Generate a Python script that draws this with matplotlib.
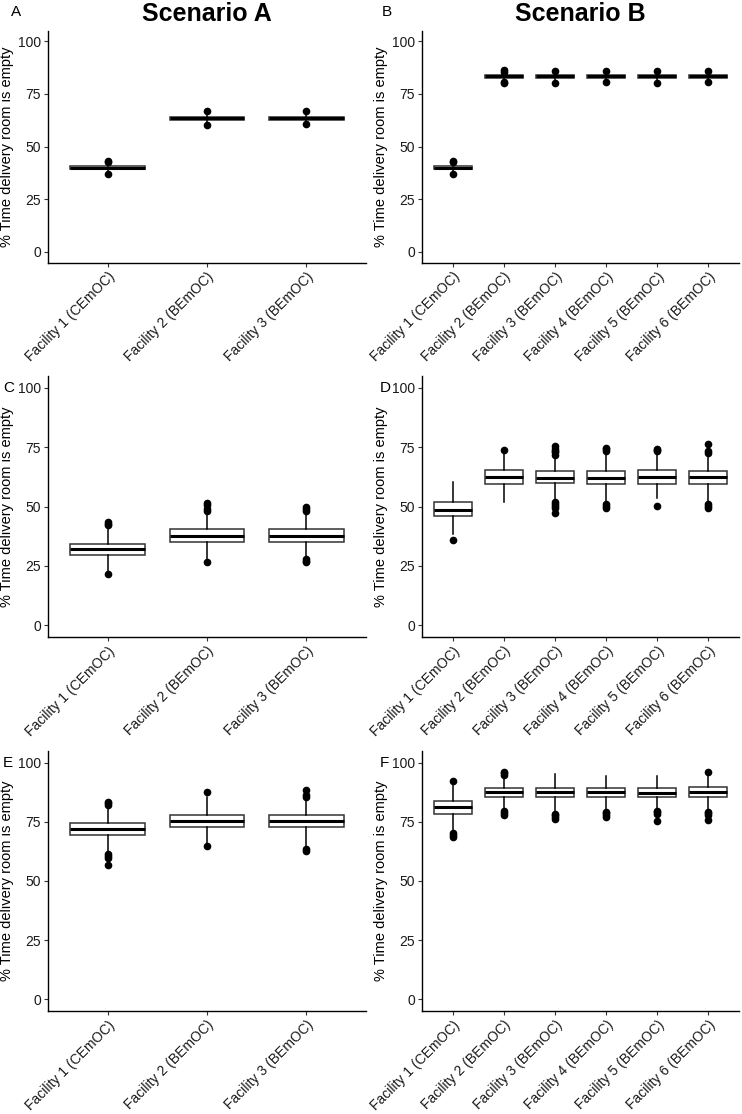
import matplotlib
matplotlib.use("Agg")
import matplotlib.pyplot as plt

plt.rcParams['font.family'] = ['Liberation Sans', 'DejaVu Sans']

labels3 = ["Facility 1 (CEmOC)", "Facility 2 (BEmOC)", "Facility 3 (BEmOC)"]
labels6 = ["Facility 1 (CEmOC)", "Facility 2 (BEmOC)", "Facility 3 (BEmOC)",
           "Facility 4 (BEmOC)", "Facility 5 (BEmOC)", "Facility 6 (BEmOC)"]
y_ticks = [0, 25, 50, 75, 100]

# Panel A
A_med = [40.0, 63.3, 63.3]
A_q1 = [39.2, 62.5, 62.5]
A_q3 = [40.8, 64.1, 64.1]
A_lo = [37.0, 60.0, 60.5]
A_hi = [43.3, 66.7, 66.7]
A_fliers = [[43.3, 42.6, 37.0], [66.7, 60.0], [66.7, 60.5]]

# Panel B
B_med = [40.0, 83.3, 83.3, 83.3, 83.3, 83.3]
B_q1 = [39.2, 82.5, 82.5, 82.5, 82.5, 82.5]
B_q3 = [40.8, 84.1, 84.1, 84.1, 84.1, 84.1]
B_lo = [37.0, 80.0, 80.0, 80.5, 80.0, 80.5]
B_hi = [43.3, 86.2, 85.8, 85.8, 85.8, 86.0]
B_fliers = [[43.3, 42.6, 37.0], [86.2, 85.5, 80.0, 80.6], [85.8, 80.0], [85.8, 80.5],
            [85.8, 80.0], [86.0, 80.5]]

# Panel C
C_med = [32.1, 37.7, 37.7]
C_q1 = [29.6, 35.2, 35.2]
C_q3 = [34.4, 40.4, 40.4]
C_lo = [23.0, 27.0, 28.0]
C_hi = [41.8, 48.0, 48.0]
C_fliers = [[42.2, 42.8, 43.4, 21.5], [48.3, 49.0, 50.6, 51.4, 26.8], [48.2, 48.8, 49.6, 26.5, 27.2, 27.8]]

# Panel D
D_med = [48.7, 62.5, 62.2, 62.2, 62.4, 62.4]
D_q1 = [45.8, 59.6, 59.8, 59.6, 59.6, 59.6]
D_q3 = [51.8, 65.2, 64.9, 65.0, 65.2, 64.9]
D_lo = [38.2, 51.8, 53.0, 52.2, 53.5, 52.2]
D_hi = [60.4, 73.8, 71.2, 72.6, 72.0, 71.6]
D_fliers = [[36.0], [74.0],
            [71.8, 72.8, 73.6, 74.4, 75.4, 47.3, 49.5, 50.4, 51.2, 52.0],
            [73.6, 74.2, 74.7, 49.5, 50.2, 51.0],
            [73.2, 73.8, 74.2, 50.3],
            [76.3, 72.6, 73.4, 49.5, 50.3, 51.2]]

# Panel E
E_med = [72.0, 75.4, 75.4]
E_q1 = [69.5, 72.9, 72.9]
E_q3 = [74.6, 78.1, 78.1]
E_lo = [62.0, 65.4, 64.5]
E_hi = [82.0, 85.6, 84.5]
E_fliers = [[82.3, 83.0, 83.6, 59.8, 60.6, 61.3, 56.8], [87.7, 64.8], [88.3, 85.6, 86.2, 62.9, 63.7]]

# Panel F
F_med = [81.1, 87.5, 87.5, 87.5, 87.3, 87.7]
F_q1 = [78.3, 85.5, 85.4, 85.4, 85.4, 85.4]
F_q3 = [83.7, 89.3, 89.4, 89.4, 89.4, 89.6]
F_lo = [71.2, 80.0, 79.0, 79.6, 80.0, 80.0]
F_hi = [91.8, 94.4, 95.1, 94.4, 94.6, 94.4]
F_fliers = [[92.4, 68.5, 69.5, 70.4], [94.8, 95.5, 96.0, 77.8, 78.6, 79.5],
            [76.3, 77.0, 77.8, 78.4], [77.0, 77.8, 78.6, 79.2],
            [78.2, 79.0, 79.8, 75.4], [96.2, 77.8, 78.6, 79.4, 75.6]]

panels = [
    ("A", labels3, A_med, A_q1, A_q3, A_lo, A_hi, A_fliers),
    ("B", labels6, B_med, B_q1, B_q3, B_lo, B_hi, B_fliers),
    ("C", labels3, C_med, C_q1, C_q3, C_lo, C_hi, C_fliers),
    ("D", labels6, D_med, D_q1, D_q3, D_lo, D_hi, D_fliers),
    ("E", labels3, E_med, E_q1, E_q3, E_lo, E_hi, E_fliers),
    ("F", labels6, F_med, F_q1, F_q3, F_lo, F_hi, F_fliers),
]

W, H = 742, 1114
fig = plt.figure(figsize=(W / 100, H / 100), dpi=100)

col_x = [(48, 366), (422, 739)]
row_y = [(30.5, 262.5), (376, 637), (751, 1011)]
label_pos = [(11, 12), (382, 12), (3, 388), (380, 388), (3, 763), (380, 763)]

for i, (tag, labs, med, q1, q3, lo, hi, fl) in enumerate(panels):
    r, c = divmod(i, 2)
    x0, x1 = col_x[c]
    yt, yb = row_y[r]
    ax = fig.add_axes([x0 / W, 1 - yb / H, (x1 - x0) / W, (yb - yt) / H])
    stats = []
    for k in range(len(labs)):
        stats.append(dict(med=med[k], q1=q1[k], q3=q3[k], whislo=lo[k], whishi=hi[k],
                          fliers=fl[k], label=labs[k]))
    pos = list(range(1, len(labs) + 1))
    ax.bxp(stats, positions=pos, widths=0.75, showcaps=False, patch_artist=True,
           boxprops=dict(facecolor='white', edgecolor='#333333', linewidth=1.1),
           medianprops=dict(color='black', linewidth=2.2),
           whiskerprops=dict(color='black', linewidth=1.1),
           flierprops=dict(marker='o', markerfacecolor='black', markeredgecolor='black',
                           markersize=4.5, linestyle='none'))
    ax.set_xlim(0.4, len(labs) + 0.6)
    ax.set_ylim(-5, 105)
    ax.set_yticks(y_ticks)
    ax.set_yticklabels([str(v) for v in y_ticks])
    ax.set_xticks(pos)
    ax.set_xticklabels(labs, rotation=45, ha='right', rotation_mode='anchor')
    for s in ['top', 'right']:
        ax.spines[s].set_visible(False)
    for s in ['left', 'bottom']:
        ax.spines[s].set_linewidth(1.0)
        ax.spines[s].set_color('black')
    ax.tick_params(axis='both', direction='out', length=3, width=0.8, color='#333333',
                   labelsize=10, labelcolor='#1a1a1a', pad=2)
    ax.set_ylabel("% Time delivery room is empty", fontsize=10.5, labelpad=3)
    fig.text(label_pos[i][0] / W, 1 - label_pos[i][1] / H, tag, fontsize=11,
             ha='left', va='center')
    if r == 0:
        fig.text((x0 + x1) / 2 / W, 1 - 14 / H, "Scenario " + tag, fontsize=18,
                 fontweight='bold', ha='center', va='center')

fig.savefig("out.png", dpi=100)
